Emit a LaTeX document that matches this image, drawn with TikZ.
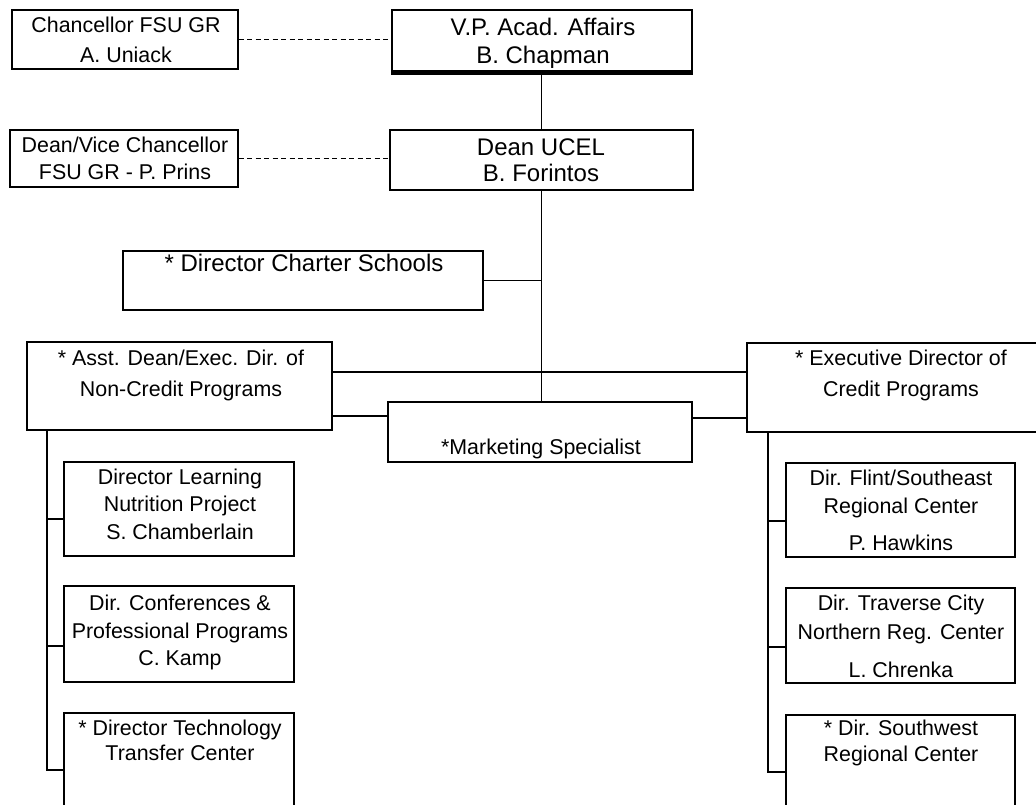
\documentclass[tikz,border=0pt]{standalone}
\usepackage{fontspec}
\setmainfont{Liberation Sans}
\usetikzlibrary{calc}
\begin{document}
\begin{tikzpicture}[x=1pt,y=-1pt,
  box/.style={draw, line width=1.2pt, inner sep=0pt},
  tn/.style={font=\fontsize{21.4}{26}\selectfont, inner sep=0pt, text height=15.4pt, text depth=0pt},
  tbig/.style={font=\fontsize{24}{28}\selectfont, inner sep=0pt, text height=17.2pt, text depth=0pt},
  conn/.style={line width=1.2pt},
  dconn/.style={line width=1.6pt, dash pattern=on 5pt off 3.5pt}]
\useasboundingbox (0,0) rectangle (1036,805);
\fill[white] (0,0) rectangle (1036,805);

% boxes
\node[box, minimum width=226pt, minimum height=59pt] (chanc) at (125,39.5) {};
\node[box, minimum width=300pt, minimum height=61pt] (vp) at (542,40.5) {};
\node[box, minimum width=228pt, minimum height=57pt] (dvc) at (124,158.5) {};
\node[box, minimum width=303pt, minimum height=60pt] (dean) at (541.5,160) {};
\node[box, minimum width=360pt, minimum height=59pt] (charter) at (303,280.5) {};
\node[box, minimum width=305pt, minimum height=88pt] (asst) at (179.5,386) {};
\node[box, minimum width=304pt, minimum height=60pt] (mkt) at (540,432) {};
\node[box, minimum width=303pt, minimum height=89pt] (exec) at (898.5,387.5) {};
\node[box, minimum width=230pt, minimum height=94pt] (L1) at (179,509) {};
\node[box, minimum width=230pt, minimum height=96pt] (L2) at (179,634) {};
\node[box, minimum width=230pt, minimum height=117pt] (L3) at (179,771.5) {};
\node[box, minimum width=229pt, minimum height=94pt] (R1) at (900.5,510) {};
\node[box, minimum width=229pt, minimum height=95pt] (R2) at (900.5,635.5) {};
\node[box, minimum width=229pt, minimum height=115pt] (R3) at (900.5,772.5) {};

% thick shadow under VP box
\draw[line width=3.5pt] ([yshift=-1.2pt]vp.south west) -- ([yshift=-1.2pt]vp.south east);

% texts
\node[tn] (chancA) at (126,25) {Chancellor FSU GR};
\node[tn] (chancB) at (126,55) {A. Uniack};
\node[tbig] (vpA) at (543,27) {V.P. Acad. Affairs};
\node[tbig] (vpB) at (543,55) {B. Chapman};
\node[tn] (dvcA) at (125,145) {Dean/Vice Chancellor};
\node[tn] (dvcB) at (125,172) {FSU GR - P. Prins};
\node[tbig] (deanA) at (541,147) {Dean UCEL};
\node[tbig] (deanB) at (541,173) {B. Forintos};
\node[tbig] (charterA) at (304,263) {* Director Charter Schools};
\node[tn] (asstA) at (181,358) {* Asst. Dean/Exec. Dir. of};
\node[tn] (asstB) at (181,389) {Non-Credit Programs};
\node[tn] (mktA) at (541,447) {*Marketing Specialist};
\node[tn] (execA) at (901,358) {* Executive Director of};
\node[tn] (execB) at (901,389) {Credit Programs};
\node[tn] (L1a) at (180,477) {Director Learning};
\node[tn] (L1b) at (180,504) {Nutrition Project};
\node[tn] (L1c) at (180,532) {S. Chamberlain};
\node[tn] (L2a) at (180,603) {Dir. Conferences \&};
\node[tn] (L2b) at (180,631) {Professional Programs};
\node[tn] (L2c) at (180,658) {C. Kamp};
\node[tn] (L3a) at (180,728) {* Director Technology};
\node[tn] (L3b) at (180,753) {Transfer Center};
\node[tn] (R1a) at (901,478) {Dir. Flint/Southeast};
\node[tn] (R1b) at (901,506) {Regional Center};
\node[tn] (R1c) at (901,543) {P. Hawkins};
\node[tn] (R2a) at (901,603) {Dir. Traverse City};
\node[tn] (R2b) at (901,632) {Northern Reg. Center};
\node[tn] (R2c) at (901,670) {L. Chrenka};
\node[tn] (R3a) at (901,728) {* Dir. Southwest};
\node[tn] (R3b) at (901,754) {Regional Center};

% junction coordinates
\coordinate (jA) at (541,372);
\coordinate (jB) at (360,416);
\coordinate (jC) at (720,418);
\coordinate (lb1) at (47,519);
\coordinate (lb2) at (47,646);
\coordinate (lb3) at (47,770);
\coordinate (rb1) at (768,521);
\coordinate (rb2) at (768,647);
\coordinate (rb3) at (768,772);

% connectors
\draw[dconn] (chanc.east) -- (chanc.east -| vp.west);
\draw[dconn] (dvc.east) -- (dvc.east -| dean.west);
\draw[conn] (vp.south) -- (vp.south -| dean.north) -- (dean.north);
\draw[conn] (dean.south) -- (dean.south |- mkt.north);
\draw[conn] (charter.east) -- (charter.east -| dean.south);
\draw[conn] (asst.east |- jA) -- (exec.west |- jA);
\draw[conn] (asst.east |- jB) -- (mkt.west |- jB);
\draw[conn] (mkt.east |- jC) -- (exec.west |- jC);
\draw[conn] (asst.south -| lb3) -- (lb3) -- (lb3 -| L3.west);
\draw[conn] (lb1) -- (lb1 -| L1.west);
\draw[conn] (lb2) -- (lb2 -| L2.west);
\draw[conn] (exec.south -| rb3) -- (rb3) -- (rb3 -| R3.west);
\draw[conn] (rb1) -- (rb1 -| R1.west);
\draw[conn] (rb2) -- (rb2 -| R2.west);
\end{tikzpicture}
\end{document}
